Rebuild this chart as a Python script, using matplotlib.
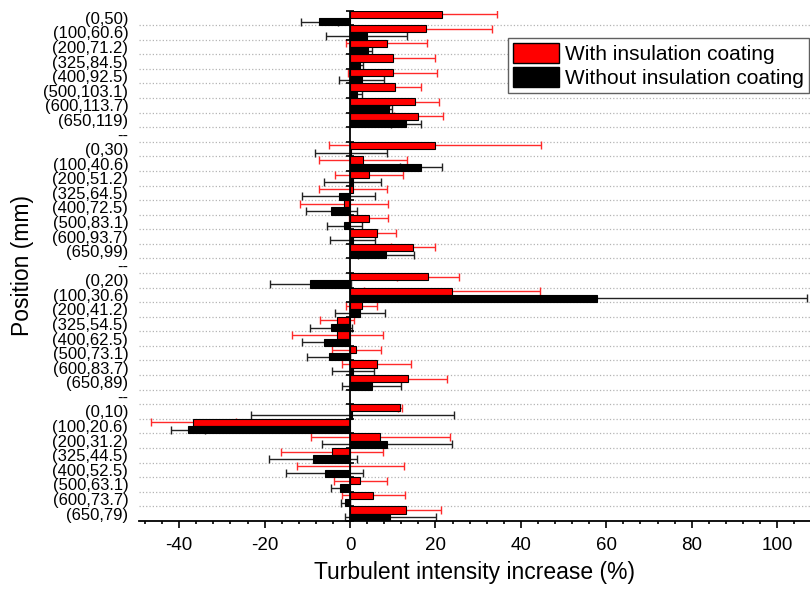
import numpy as np
import matplotlib
matplotlib.use("Agg")
import matplotlib.pyplot as plt
from matplotlib.patches import Patch

plt.rcParams['font.family'] = ['Liberation Sans', 'DejaVu Sans']
plt.rcParams['axes.unicode_minus'] = False

# positions (x, z) in mm, one list per group, top to bottom
group1 = ["(0,50)", "(100,60.6)", "(200,71.2)", "(325,84.5)", "(400,92.5)", "(500,103.1)", "(600,113.7)", "(650,119)"]
group2 = ["(0,30)", "(100,40.6)", "(200,51.2)", "(325,64.5)", "(400,72.5)", "(500,83.1)", "(600,93.7)", "(650,99)"]
group3 = ["(0,20)", "(100,30.6)", "(200,41.2)", "(325,54.5)", "(400,62.5)", "(500,73.1)", "(600,83.7)", "(650,89)"]
group4 = ["(0,10)", "(100,20.6)", "(200,31.2)", "(325,44.5)", "(400,52.5)", "(500,63.1)", "(600,73.7)", "(650,79)"]

# with insulation coating (red)
with_coat = [21.5, 17.7, 8.6, 10.0, 9.95, 10.6, 15.1, 16.0,
             19.9, 3.05, 4.45, 0.6, -1.35, 4.4, 6.2, 14.7,
             18.2, 23.8, 2.7, -3.0, -2.95, 1.45, 6.2, 13.6,
             11.7, -36.7, 7.1, -4.25, 0.1, 2.4, 5.45, 13.0]
with_err = [12.9, 15.6, 9.5, 10.0, 10.4, 5.9, 5.7, 5.7,
            24.8, 10.35, 8.05, 7.95, 10.35, 4.6, 4.6, 5.1,
            7.3, 20.6, 3.6, 4.0, 10.65, 5.75, 8.1, 9.2,
            0.4, 10.0, 16.2, 11.95, 12.45, 6.2, 7.35, 8.3]

# without insulation coating (black)
without_coat = [-7.2, 3.95, 4.3, 2.3, 2.7, 1.6, 9.2, 13.1,
                0.3, 16.6, 0.6, -2.65, -4.35, -1.35, 0.6, 8.4,
                -9.3, 57.9, 2.25, -4.4, -6.1, -5.0, 0.65, 5.05,
                0.55, -37.9, 8.65, -8.7, -5.95, -2.4, -1.1, 9.45]
without_err = [4.3, 9.5, 0.8, 0.8, 5.3, 1.1, 0.7, 3.5,
               8.4, 5.0, 6.7, 8.55, 6.05, 4.05, 5.3, 6.6,
               9.5, 49.1, 5.85, 4.9, 5.2, 5.0, 4.95, 6.85,
               23.85, 4.0, 15.15, 10.3, 8.95, 2.0, 1.1, 10.65]

groups = [group1, group2, group3, group4]

# row index of each position, with an empty "--" row between groups
rows = []
tick_labels = []
for g, grp in enumerate(groups):
    for i, lab in enumerate(grp):
        rows.append(g * 9 + i)
    tick_labels += grp
    if g < len(groups) - 1:
        tick_labels.append("--")
rows = np.array(rows)
n_rows = len(tick_labels)

fig = plt.figure(figsize=(8.1, 5.94), dpi=100)
ax = fig.add_axes([0.1722, 0.1232, 0.8278, 0.859])

h = 0.5
ax.errorbar(with_coat, rows - h / 2, xerr=with_err, fmt='none', ecolor='#ff2a2a',
            elinewidth=1, capsize=3, capthick=1, zorder=1)
ax.errorbar(without_coat, rows + h / 2, xerr=without_err, fmt='none', ecolor='#222222',
            elinewidth=1, capsize=3, capthick=1, zorder=1)
ax.barh(rows - h / 2, with_coat, height=h, color='#ff0000', edgecolor='black',
        linewidth=0.8, zorder=2)
ax.barh(rows + h / 2, without_coat, height=h, color='black', edgecolor='black',
        linewidth=0.8, zorder=2)

# zero line with small marks at row boundaries
bounds = np.arange(n_rows + 1) - 0.5
ax.axvline(0, color='black', lw=1.3, zorder=3)
ax.plot(np.zeros(len(bounds)), bounds, ls='none', marker='_', ms=6, mew=1.2,
        color='black', clip_on=False, zorder=3)

ax.set_ylim(n_rows - 0.5, -0.5)
ax.set_xlim(-49.3, 107.7)

ax.set_yticks(np.arange(n_rows))
ax.set_yticklabels(tick_labels)
ax.set_yticks(bounds[1:-1], minor=True)
ax.tick_params(axis='y', which='both', length=0, pad=8, labelsize=12)
ax.grid(axis='y', which='minor', ls=':', color='#b4b4b4', lw=0.9)
ax.set_axisbelow(True)

ax.set_xticks(np.arange(-40, 101, 20))
ax.set_xticks(np.arange(-48, 108, 4), minor=True)
ax.tick_params(axis='x', which='major', direction='out', length=5, width=1.2,
               pad=7, labelsize=13.5)
ax.tick_params(axis='x', which='minor', direction='out', length=2.5, width=1.2)

for side in ['left', 'top', 'right']:
    ax.spines[side].set_visible(False)
ax.spines['bottom'].set_linewidth(1.3)

ax.set_xlabel('Turbulent intensity increase (%)', fontsize=16.5, labelpad=5)
ax.set_ylabel('Position (mm)', fontsize=16.5)
ax.yaxis.set_label_coords(-0.158, 0.5)

handles = [Patch(facecolor='#ff0000', edgecolor='black', label='With insulation coating'),
           Patch(facecolor='black', edgecolor='black', label='Without insulation coating')]
leg = ax.legend(handles=handles, loc='upper right', bbox_to_anchor=(0.999, 0.946),
                borderaxespad=0, fontsize=15, handlelength=2.2, handleheight=1.05,
                handletextpad=0.3, labelspacing=0.15, borderpad=0.25,
                fancybox=False, framealpha=1)
leg.get_frame().set_edgecolor('#606060')
leg.get_frame().set_linewidth(1.0)

fig.savefig('out.png', dpi=100)
